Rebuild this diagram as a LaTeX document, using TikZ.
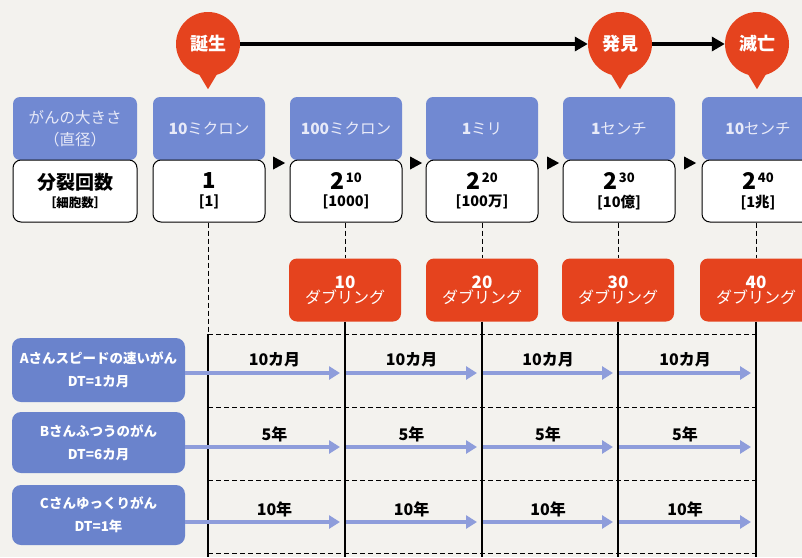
\documentclass[tikz,border=0pt]{standalone}
\usepackage{fontspec}
\setmainfont{Noto Sans CJK JP}
\usetikzlibrary{shapes.geometric,arrows.meta,calc}
\definecolor{bg}{HTML}{F3F2EE}
\definecolor{hblue}{HTML}{7189D2}
\definecolor{rblue}{HTML}{6A83CC}
\definecolor{redb}{HTML}{E5431E}
\definecolor{arr}{HTML}{8E9DDB}
\definecolor{htext}{HTML}{E8EAF8}
\newcommand\fsz[2]{\fontsize{#1}{#2}\selectfont}
\newcommand\pw[1]{{\fsz{23}{26}\bfseries 2}\,\raisebox{7pt}{\fsz{13}{14}\bfseries #1}}
\begin{document}
\begin{tikzpicture}[x=1pt,y=-1pt,
  hbox/.style={fill=hblue, rounded corners=7pt, minimum width=112pt, minimum height=63pt, text=htext, font=\fsz{15.5}{22}, align=center, inner sep=0pt},
  wbox/.style={fill=white, draw=black, line width=1pt, rounded corners=8pt, minimum width=112pt, minimum height=62pt, align=center, inner sep=0pt},
  dbl/.style={fill=redb, rounded corners=8pt, minimum width=112pt, minimum height=63pt, text=white, align=center, inner sep=0pt},
  rowbox/.style={fill=rblue, rounded corners=9pt, minimum width=173pt, minimum height=62pt, text=white, font=\fsz{13.5}{23}\bfseries, align=center, inner sep=0pt},
  badge/.style={circle, fill=redb, minimum size=64pt, text=white, font=\fsz{18}{20}\bfseries, inner sep=0pt},
  tri/.style={isosceles triangle, isosceles triangle stretches, fill=black, minimum width=13pt, minimum height=12pt, inner sep=0pt},
  tline/.style={line width=3.5pt, -{Triangle[length=13pt,width=14pt]}},
  rarrow/.style={arr, line width=4pt, -{Triangle[length=11pt,width=13pt]}},
  vdash/.style={line width=0.9pt, dash pattern=on 5pt off 3pt},
  gdash/.style={line width=0.9pt, dash pattern=on 5pt off 3pt},
  vsolid/.style={line width=2.2pt},
  lab/.style={font=\fsz{16}{18}\bfseries, inner sep=0pt}
]
\fill[bg] (0,0) rectangle (802,557);
\useasboundingbox (0,0) rectangle (802,557);

% badges
\node[badge] (b1) at (208,44) {誕生};
\node[badge] (b2) at (620,44) {発見};
\node[badge] (b3) at (757,44) {滅亡};
\foreach \b in {b1,b2,b3}{
  \fill[redb] ([xshift=-12pt,yshift=7pt]\b.south) -- ([yshift=-13pt]\b.south) -- ([xshift=12pt,yshift=7pt]\b.south) -- cycle;
}
\draw[tline] (b1.east) -- (b2.west);
\draw[tline] (b2.east) -- (b3.west);

% header boxes
\node[hbox, minimum width=124pt] (h0) at (75,128.5) {がんの大きさ\\（直径）};
\node[hbox] (h1) at (209,128.5) {\textbf{10}ミクロン};
\node[hbox] (h2) at (346,128.5) {\textbf{100}ミクロン};
\node[hbox] (h3) at (482,128.5) {\textbf{1}ミリ};
\node[hbox] (h4) at (619,128.5) {\textbf{1}センチ};
\node[hbox] (h5) at (758,128.5) {\textbf{10}センチ};

% white boxes
\node[wbox, minimum width=124pt] (w0) at (75,191) {{\fsz{19}{22}\bfseries 分裂回数}\\[4pt]{\fsz{12.5}{14}\bfseries ［細胞数］}};
\node[wbox] (w1) at (209,191) {{\fsz{22}{24}\bfseries 1}\\[6pt]{\fsz{14.5}{16}\bfseries [1]}};
\node[wbox] (w2) at (346,191) {\pw{10}\\[5pt]{\fsz{14.5}{16}\bfseries [1000]}};
\node[wbox] (w3) at (482,191) {\pw{20}\\[5pt]{\fsz{14.5}{16}\bfseries [100万]}};
\node[wbox] (w4) at (619,191) {\pw{30}\\[5pt]{\fsz{14.5}{16}\bfseries [10億]}};
\node[wbox] (w5) at (758,191) {\pw{40}\\[5pt]{\fsz{14.5}{16}\bfseries [1兆]}};

% small triangles
\node[tri] (t1) at (277,163) {};
\node[tri] (t2) at (414,163) {};
\node[tri] (t3) at (551,163) {};
\node[tri] (t4) at (688,163) {};

% doubling boxes
\node[dbl] (d2) at (345,290) {{\fsz{17}{20}\bfseries 10}\\{\fsz{16}{18}ダブリング}};
\node[dbl] (d3) at (482,290) {{\fsz{17}{20}\bfseries 20}\\{\fsz{16}{18}ダブリング}};
\node[dbl] (d4) at (618,290) {{\fsz{17}{20}\bfseries 30}\\{\fsz{16}{18}ダブリング}};
\node[dbl] (d5) at (756,290) {{\fsz{17}{20}\bfseries 40}\\{\fsz{16}{18}ダブリング}};

% grid coordinates
\coordinate (g1t) at (208,334);
\coordinate (g1b) at (208,557);
\foreach \i/\x in {2/345,3/482,4/618,5/756}{
  \coordinate (g\i b) at (\x,557);
}
\foreach \k/\y in {0/334,1/407,2/480,3/553}{
  \coordinate (hl\k) at (208,\y);
  \coordinate (hr\k) at (756,\y);
  \draw[gdash] (hl\k) -- (hr\k);
}

% dashed verticals from white boxes
\draw[vdash] (w1.south -| g1t) -- (g1t);
\draw[vdash] (w2.south -| d2) -- (d2.north);
\draw[vdash] (w3.south -| d3) -- (d3.north);
\draw[vdash] (w4.south -| d4) -- (d4.north);
\draw[vdash] (w5.south -| d5) -- (d5.north);

% solid verticals
\draw[vsolid] (g1t) -- (g1b);
\foreach \i in {2,3,4,5}{ \draw[vsolid] (d\i.south) -- (g\i b); }

% row boxes
\node[rowbox, minimum height=64pt] (rA) at (98.5,370) {Aさんスピードの速いがん\\DT=1カ月};
\node[rowbox, minimum height=61pt] (rB) at (98.5,442.5) {Bさんふつうのがん\\DT=6カ月};
\node[rowbox, minimum height=60pt] (rC) at (98.5,515) {Cさんゆっくりがん\\DT=1年};

% row arrows and labels
\foreach \r/\y/\t in {A/373/10カ月, B/447/5年, C/522/10年}{
  \coordinate (\r0) at (185,\y);
  \coordinate (\r1s) at (209,\y); \coordinate (\r1e) at (340,\y);
  \coordinate (\r2s) at (346,\y); \coordinate (\r2e) at (477,\y);
  \coordinate (\r3s) at (483,\y); \coordinate (\r3e) at (613,\y);
  \coordinate (\r4s) at (619,\y); \coordinate (\r4e) at (751,\y);
  \draw[rarrow] (\r0) -- (\r1e);
  \draw[rarrow] (\r2s) -- (\r2e);
  \draw[rarrow] (\r3s) -- (\r3e);
  \draw[rarrow] (\r4s) -- (\r4e);
  \node[lab] (\r L1) at ([yshift=13pt]$(\r1s)!0.5!(\r1e)$) {\t};
  \node[lab] (\r L2) at ([yshift=13pt]$(\r2s)!0.5!(\r2e)$) {\t};
  \node[lab] (\r L3) at ([yshift=13pt]$(\r3s)!0.5!(\r3e)$) {\t};
  \node[lab] (\r L4) at ([yshift=13pt]$(\r4s)!0.5!(\r4e)$) {\t};
}
\end{tikzpicture}
\end{document}
